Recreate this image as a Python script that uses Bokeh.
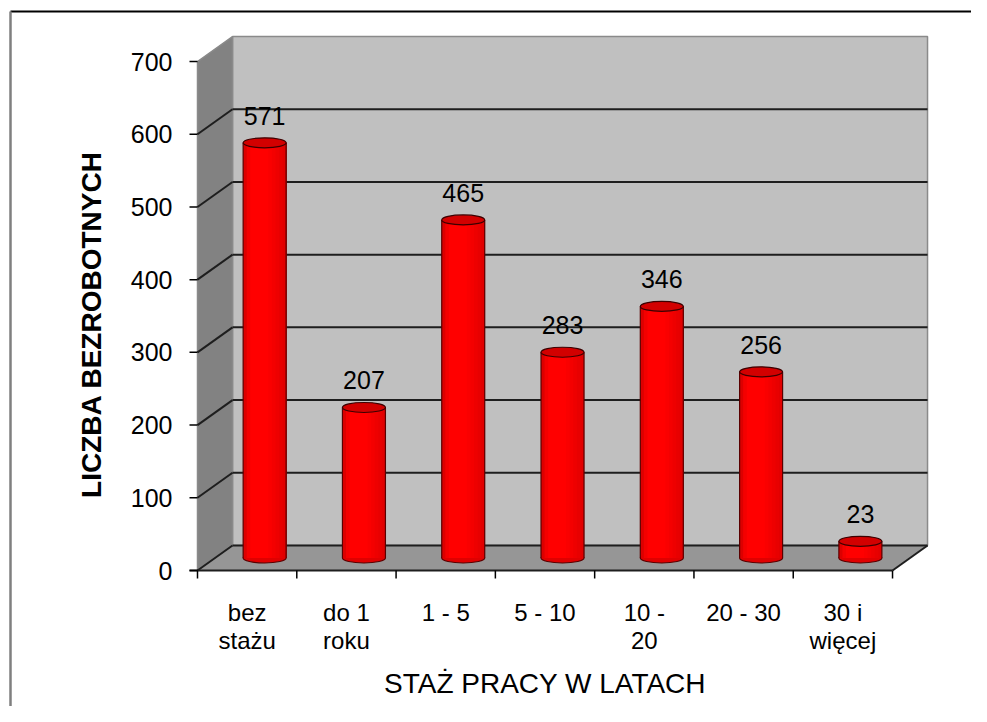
import numpy as np
from bokeh.plotting import figure
from bokeh.models import Range1d
from bokeh.core.properties import value
from bokeh.embed import file_html
from bokeh.resources import INLINE

# ---------------- data ----------------
categories = ["bez\nstażu", "do 1\nroku", "1 - 5", "5 - 10", "10 -\n20", "20 - 30", "30 i\nwięcej"]
counts = [571, 207, 465, 283, 346, 256, 23]
y_ticks = [0, 100, 200, 300, 400, 500, 600, 700]
y_tick_labels = [str(t) for t in y_ticks]
x_title = "STAŻ PRACY W LATACH"
y_title = "LICZBA BEZROBOTNYCH"

# ---------------- layout ----------------
W, H = 971, 706
ORIGIN_X, ORIGIN_Y = 197, 570      # canvas px of the front-left floor corner
PX_PER_CAT = 99.29                 # px per category slot
PX_PER_VAL = 0.7271                # px per value unit
DX = 35 / PX_PER_CAT               # depth offset (category units)
DY = 25 / PX_PER_VAL               # depth offset (value units)
FONT = value("Liberation Sans")

n = len(categories)
ymax = y_ticks[-1]

p = figure(width=W, height=H, output_backend="svg", toolbar_location=None,
           x_axis_type=None, y_axis_type=None, min_border=0,
           x_range=Range1d(-ORIGIN_X / PX_PER_CAT, (W - ORIGIN_X) / PX_PER_CAT),
           y_range=Range1d(-(H - ORIGIN_Y) / PX_PER_VAL, ORIGIN_Y / PX_PER_VAL))
p.outline_line_color = None
p.background_fill_color = "white"
p.border_fill_color = "white"
p.grid.visible = False

# outer frame (top and left edges)
fx0 = p.x_range.start + 10 / PX_PER_CAT
fy0 = p.y_range.end - 11 / PX_PER_VAL
p.line(x=[fx0, p.x_range.end + 5 / PX_PER_CAT], y=[fy0, fy0], line_color="black", line_width=2)
p.line(x=[fx0, fx0], y=[fy0, p.y_range.start - 5 / PX_PER_VAL], line_color="#7f7f7f", line_width=2.5)

# walls and floor
p.patch(x=[DX, n + DX, n + DX, DX], y=[DY, DY, ymax + DY, ymax + DY],
        fill_color="#c0c0c0", line_color="#8a8a8a", line_width=1.5)
p.patch(x=[0, DX, DX, 0], y=[0, DY, ymax + DY, ymax],
        fill_color="#828282", line_color="#8a8a8a", line_width=1.5)
p.patch(x=[0, n, n + DX, DX], y=[0, 0, DY, DY],
        fill_color="#969696", line_color=None)

# gridlines (back wall + left wall), 0..600 dark, top edge stays gray
grid_vals = y_ticks[:-1]
p.segment(x0=[DX] * len(grid_vals), y0=[v + DY for v in grid_vals],
          x1=[n + DX] * len(grid_vals), y1=[v + DY for v in grid_vals],
          line_color="#1e1e1e", line_width=2)
p.segment(x0=[0] * len(grid_vals), y0=grid_vals,
          x1=[DX] * len(grid_vals), y1=[v + DY for v in grid_vals],
          line_color="#1e1e1e", line_width=2)
# floor front edge and right edge
p.segment(x0=[-8 / PX_PER_CAT, n], y0=[0, 0], x1=[n, n + DX], y1=[0, DY],
          line_color="#1e1e1e", line_width=2)

# y ticks
p.segment(x0=[-8 / PX_PER_CAT] * len(y_ticks), y0=y_ticks,
          x1=[0] * len(y_ticks), y1=y_ticks, line_color="black", line_width=1.5)
p.text(x=[-25 / PX_PER_CAT] * len(y_ticks), y=y_ticks, text=y_tick_labels,
       text_font=FONT, text_font_size="25px", text_align="right",
       text_baseline="middle", text_color="black")

# category ticks
bounds = list(range(n + 1))
p.segment(x0=bounds, y0=[0] * len(bounds), x1=bounds, y1=[-8 / PX_PER_VAL] * len(bounds),
          line_color="black", line_width=1.5)

# category labels
p.text(x=[i + 0.5 for i in range(n)], y=[-28 / PX_PER_VAL] * n, text=categories,
       text_font=FONT, text_font_size="24px", text_align="center",
       text_baseline="top", text_line_height=1.05, text_color="black")

# cylinders
cw = 43 / PX_PER_CAT
eh = 10 / PX_PER_VAL
cx = [i + 0.5 + DX / 2 for i in range(n)]
base = DY / 2
tops = [v + DY / 2 for v in counts]

p.ellipse(x=cx, y=[base] * n, width=cw, height=eh,
          fill_color="#e00000", line_color="#5a0000", line_width=1.2)

K = 12
strip_cols = []
for k in range(K):
    t = k / K
    if t < 0.12:
        r = 220 + int(35 * t / 0.12)
    elif t < 0.5:
        r = 255
    else:
        r = 255 - int(35 * (t - 0.5) / 0.5)
    strip_cols.append("#%02x0000" % r)

sl, sr, sb, st, sc = [], [], [], [], []
for c, tp in zip(cx, tops):
    for k in range(K):
        sl.append(c - cw / 2 + k * cw / K)
        sr.append(c + cw / 2)
        sb.append(base)
        st.append(tp)
        sc.append(strip_cols[k])
p.quad(left=sl, right=sr, bottom=sb, top=st, fill_color=sc, line_color=None)

p.segment(x0=[c - cw / 2 for c in cx], y0=[base] * n, x1=[c - cw / 2 for c in cx], y1=tops,
          line_color="#5a0000", line_width=1.2)
p.segment(x0=[c + cw / 2 for c in cx], y0=[base] * n, x1=[c + cw / 2 for c in cx], y1=tops,
          line_color="#5a0000", line_width=1.2)
p.ellipse(x=cx, y=tops, width=cw, height=eh,
          fill_color="#d20000", line_color="#3c0000", line_width=1.2)

# value labels
p.text(x=cx, y=[v + DY + 20 for v in counts], text=[str(v) for v in counts],
       text_font=FONT, text_font_size="25px", text_align="center",
       text_baseline="alphabetic", text_color="black")

# axis titles
p.text(x=[n / 2], y=[-113 / PX_PER_VAL], text=[x_title], text_font=FONT,
       text_font_size="28px", text_align="center", text_baseline="middle",
       text_color="black")
p.text(x=[-106 / PX_PER_CAT], y=[246 / PX_PER_VAL], text=[y_title], text_font=FONT,
       text_font_size="28px", text_font_style="bold", text_align="center",
       text_baseline="middle", angle=np.pi / 2, text_color="black")

open("out.html", "w").write(file_html(p, INLINE))
